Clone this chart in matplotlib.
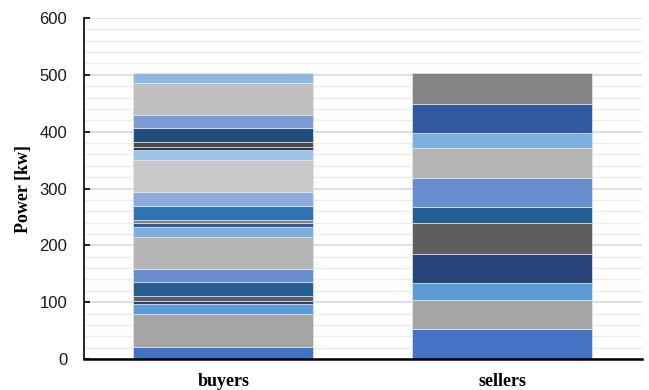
import matplotlib.pyplot as plt
import numpy as np

categories = ['buyers', 'sellers']

# segment sizes, bottom to top (kw)
buyers = [20.8, 58.7, 16.5, 5.7, 8.8, 24.5, 22.5, 57.5, 16.4, 7.6, 6.0,
          25.0, 23.0, 58.0, 15.9, 7.0, 8.8, 22.9, 22.9, 58.0, 16.5]
sellers = [52.0, 52.0, 29.0, 52.0, 54.6, 27.4, 51.0, 52.4, 28.0, 50.5, 54.0]

colors = ['#4472C4', '#A5A5A5', '#5B9BD5', '#264478', '#5E5E5E', '#255E91',
          '#698ED0', '#B5B5B5', '#7CAFDD', '#335AA1', '#848484', '#2E75B6',
          '#8FAADC', '#C9C9C9', '#9DC3E6', '#203864', '#4A4A4A', '#1F4E79',
          '#7C9CD6', '#BFBFBF', '#8DB9E0']

fig = plt.figure(figsize=(6.49, 3.9), dpi=100)
ax = fig.add_axes([0.1294, 0.0795, 0.8596, 0.8743])

x = np.arange(len(categories))
w = 0.645
for i, vals in enumerate([buyers, sellers]):
    bottom = 0
    for j, v in enumerate(vals):
        ax.bar(x[i], v, w, bottom=bottom, color=colors[j],
               edgecolor='#E6E6E6', linewidth=0.5, zorder=3)
        bottom += v

ax.set_xlim(-0.5, 1.5)
ax.set_ylim(0, 600)
ax.set_yticks(np.arange(0, 601, 100))
ax.set_yticks(np.arange(0, 601, 20), minor=True)
ax.grid(axis='y', which='major', color='#D9D9D9', linewidth=1.2, zorder=0)
ax.grid(axis='y', which='minor', color='#EDEDED', linewidth=1.0, zorder=0)

ax.set_xticks(x)
ax.set_xticklabels(categories, fontfamily='Liberation Serif',
                   fontweight='bold', fontsize=13)
ax.tick_params(axis='x', length=0, pad=10)
ax.tick_params(axis='y', which='major', direction='in', length=4,
               width=1.2, pad=12, labelsize=12, labelcolor='#1A1A1A')
ax.tick_params(axis='y', which='minor', length=0)
for lab in ax.get_yticklabels():
    lab.set_fontfamily('Liberation Sans')

ax.set_ylabel('Power [kw]', fontfamily='Liberation Serif',
              fontweight='bold', fontsize=13, labelpad=5)

for s in ['top', 'right']:
    ax.spines[s].set_visible(False)
ax.spines['left'].set_linewidth(1.2)
ax.spines['bottom'].set_linewidth(1.8)
ax.spines['left'].set_zorder(4)
ax.spines['bottom'].set_zorder(4)

fig.savefig('out.png', dpi=100)
